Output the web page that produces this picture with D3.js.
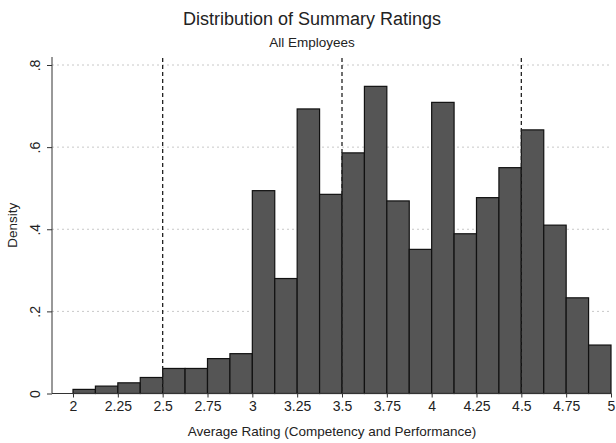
<!DOCTYPE html>
<html>
<head>
<meta charset="utf-8">
<script src="https://cdn.jsdelivr.net/npm/d3@7"></script>
<style>
  body { margin: 0; background: #fff; }
  text { font-family: "Liberation Sans", Arial, sans-serif; fill: #222; }
</style>
</head>
<body>
<div id="chart"></div>
<script>
// bin left edges (width 0.125) and densities
var binStart = [2, 2.125, 2.25, 2.375, 2.5, 2.625, 2.75, 2.875,
                3, 3.125, 3.25, 3.375, 3.5, 3.625, 3.75, 3.875,
                4, 4.125, 4.25, 4.375, 4.5, 4.625, 4.75, 4.875];
var density = [0.010, 0.018, 0.026, 0.039, 0.061, 0.061, 0.085, 0.097,
               0.494, 0.280, 0.693, 0.485, 0.586, 0.748, 0.469, 0.351,
               0.709, 0.389, 0.477, 0.550, 0.642, 0.410, 0.233, 0.118];
var binWidth = 0.125;
var xTicks = [2, 2.25, 2.5, 2.75, 3, 3.25, 3.5, 3.75, 4, 4.25, 4.5, 4.75, 5];
var yTicks = [0, 0.2, 0.4, 0.6, 0.8];
var refLines = [2.5, 3.5, 4.5];

var width = 616, height = 443;
var margin = { top: 57, right: 5, bottom: 50, left: 52 };

var svg = d3.select("#chart")
    .append("svg")
    .attr("width", width)
    .attr("height", height);

var x = d3.scaleLinear()
    .domain([2, 5])
    .range([73, 611]);

var y = d3.scaleLinear()
    .domain([0, 0.8])
    .range([393.5, 65]);

// title
svg.append("text")
    .attr("x", 312)
    .attr("y", 25)
    .style("text-anchor", "middle")
    .style("font-size", "18px")
    .text("Distribution of Summary Ratings");

svg.append("text")
    .attr("x", 312)
    .attr("y", 47)
    .style("text-anchor", "middle")
    .style("font-size", "13.5px")
    .text("All Employees");

// grid lines
svg.append("g")
    .selectAll("line")
    .data(yTicks.slice(1))
    .enter()
    .append("line")
    .attr("x1", margin.left)
    .attr("x2", width - 4)
    .attr("y1", function(d) { return y(d); })
    .attr("y2", function(d) { return y(d); })
    .attr("stroke", "#c8c8c8")
    .attr("stroke-width", 1)
    .attr("stroke-dasharray", "2,3");

// bars
svg.append("g")
    .selectAll("rect")
    .data(binStart)
    .enter()
    .append("rect")
    .attr("x", function(d) { return x(d); })
    .attr("y", function(d, i) { return y(density[i]); })
    .attr("width", function(d) { return x(d + binWidth) - x(d); })
    .attr("height", function(d, i) { return y(0) - y(density[i]); })
    .attr("fill", "#555")
    .attr("stroke", "#111")
    .attr("stroke-width", 1.2);

// reference lines
svg.append("g")
    .selectAll("line")
    .data(refLines)
    .enter()
    .append("line")
    .attr("x1", function(d) { return x(d); })
    .attr("x2", function(d) { return x(d); })
    .attr("y1", margin.top + 1)
    .attr("y2", y(0))
    .attr("stroke", "#222")
    .attr("stroke-width", 1.3)
    .attr("stroke-dasharray", "4,3");

// axes
var yAxis = svg.append("g")
    .attr("transform", "translate(" + margin.left + ",0)")
    .call(d3.axisLeft(y).tickValues(yTicks).tickSize(5)
        .tickFormat(function(d) { return d === 0 ? "0" : d3.format(".1f")(d).replace(/^0/, ""); }));
yAxis.select(".domain")
    .attr("d", "M0," + margin.top + "V" + y(0))
    .attr("stroke", "#333");
yAxis.selectAll(".tick line").attr("stroke", "#333");
yAxis.selectAll("text")
    .attr("transform", "rotate(-90)")
    .attr("x", 0)
    .attr("y", -12)
    .attr("dy", 0)
    .style("text-anchor", "middle")
    .style("font-size", "14px")
    .style("font-family", "'Liberation Sans', Arial, sans-serif");

var xAxis = svg.append("g")
    .attr("transform", "translate(0," + y(0) + ")")
    .call(d3.axisBottom(x).tickValues(xTicks).tickSize(4).tickFormat(d3.format("")));
xAxis.select(".domain")
    .attr("d", "M" + margin.left + ",0H" + x(5))
    .attr("stroke", "#333");
xAxis.selectAll(".tick line").attr("stroke", "#333");
xAxis.selectAll("text")
    .attr("y", 8)
    .style("font-size", "14px")
    .style("font-family", "'Liberation Sans', Arial, sans-serif");

// axis titles
svg.append("text")
    .attr("transform", "translate(17," + ((margin.top + y(0)) / 2) + ") rotate(-90)")
    .style("text-anchor", "middle")
    .style("font-size", "13.5px")
    .text("Density");

svg.append("text")
    .attr("x", 332)
    .attr("y", 436)
    .style("text-anchor", "middle")
    .style("font-size", "13.5px")
    .text("Average Rating (Competency and Performance)");
</script>
</body>
</html>
